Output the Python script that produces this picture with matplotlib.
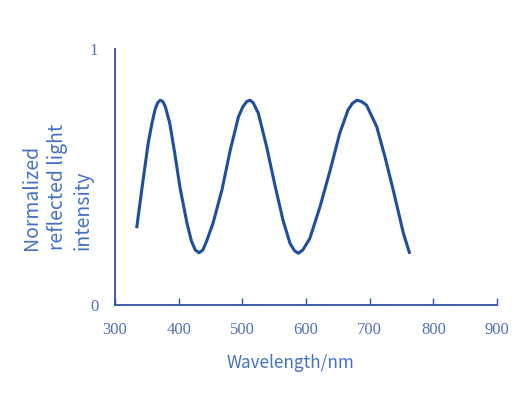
import matplotlib
matplotlib.use("Agg")
import matplotlib.pyplot as plt

# reflected spectrum
wavelength = [334, 342, 352, 358, 363, 367, 371, 375, 379, 386, 394, 402, 413, 420,
              426, 432, 438, 444, 454, 468, 481, 494, 501, 507, 512, 517, 525, 538,
              551, 564, 575, 582, 588, 595, 606, 622, 638, 653, 666, 673, 680, 687,
              695, 711, 724, 737, 753, 763]
intensity = [0.30, 0.45, 0.63, 0.71, 0.765, 0.79, 0.80, 0.795, 0.775, 0.71, 0.59, 0.46,
             0.32, 0.25, 0.215, 0.204, 0.215, 0.25, 0.32, 0.45, 0.605, 0.736, 0.775,
             0.795, 0.80, 0.79, 0.75, 0.62, 0.47, 0.33, 0.24, 0.212, 0.202, 0.215,
             0.26, 0.384, 0.527, 0.671, 0.762, 0.788, 0.80, 0.795, 0.781, 0.697,
             0.579, 0.449, 0.28, 0.20]

x_ticks = [300, 400, 500, 600, 700, 800, 900]
y_ticks = [0, 1]

line_color = "#1f4e9e"
axis_color = "#2f52a0"
tick_color = "#5470b0"
label_color = "#4472c4"

fig = plt.figure(figsize=(5.32, 3.94), dpi=100)
ax = fig.add_axes([0.2162, 0.2259, 0.718, 0.6497])

ax.plot(wavelength, intensity, color=line_color, lw=2.2,
        solid_joinstyle="round", solid_capstyle="butt")

ax.set_xlim(300, 900)
ax.set_ylim(0, 1)
ax.set_xticks(x_ticks)
ax.set_yticks(y_ticks)

for side in ("top", "right"):
    ax.spines[side].set_visible(False)
for side in ("left", "bottom"):
    ax.spines[side].set_color(axis_color)
    ax.spines[side].set_linewidth(1.3)

ax.tick_params(axis="x", direction="in", length=5, width=1, color=axis_color,
               pad=12, labelsize=12, labelcolor=tick_color)
ax.tick_params(axis="y", length=0, pad=12, labelsize=12, labelcolor=tick_color)
for lbl in ax.get_xticklabels() + ax.get_yticklabels():
    lbl.set_fontfamily("Liberation Serif")

fig.text(290 / 532, 1 - 363 / 394, "Wavelength/nm", ha="center", va="center",
         fontsize=12.3, color=label_color, family="Noto Sans CJK SC")
fig.text(57 / 532, 1 - 250 / 394, "Normalized\nreflected light\nintensity",
         rotation=90, ha="center", va="bottom", multialignment="left",
         fontsize=14, color=label_color, family="Noto Sans CJK SC",
         linespacing=1.3)

fig.savefig("out.png", dpi=100)
